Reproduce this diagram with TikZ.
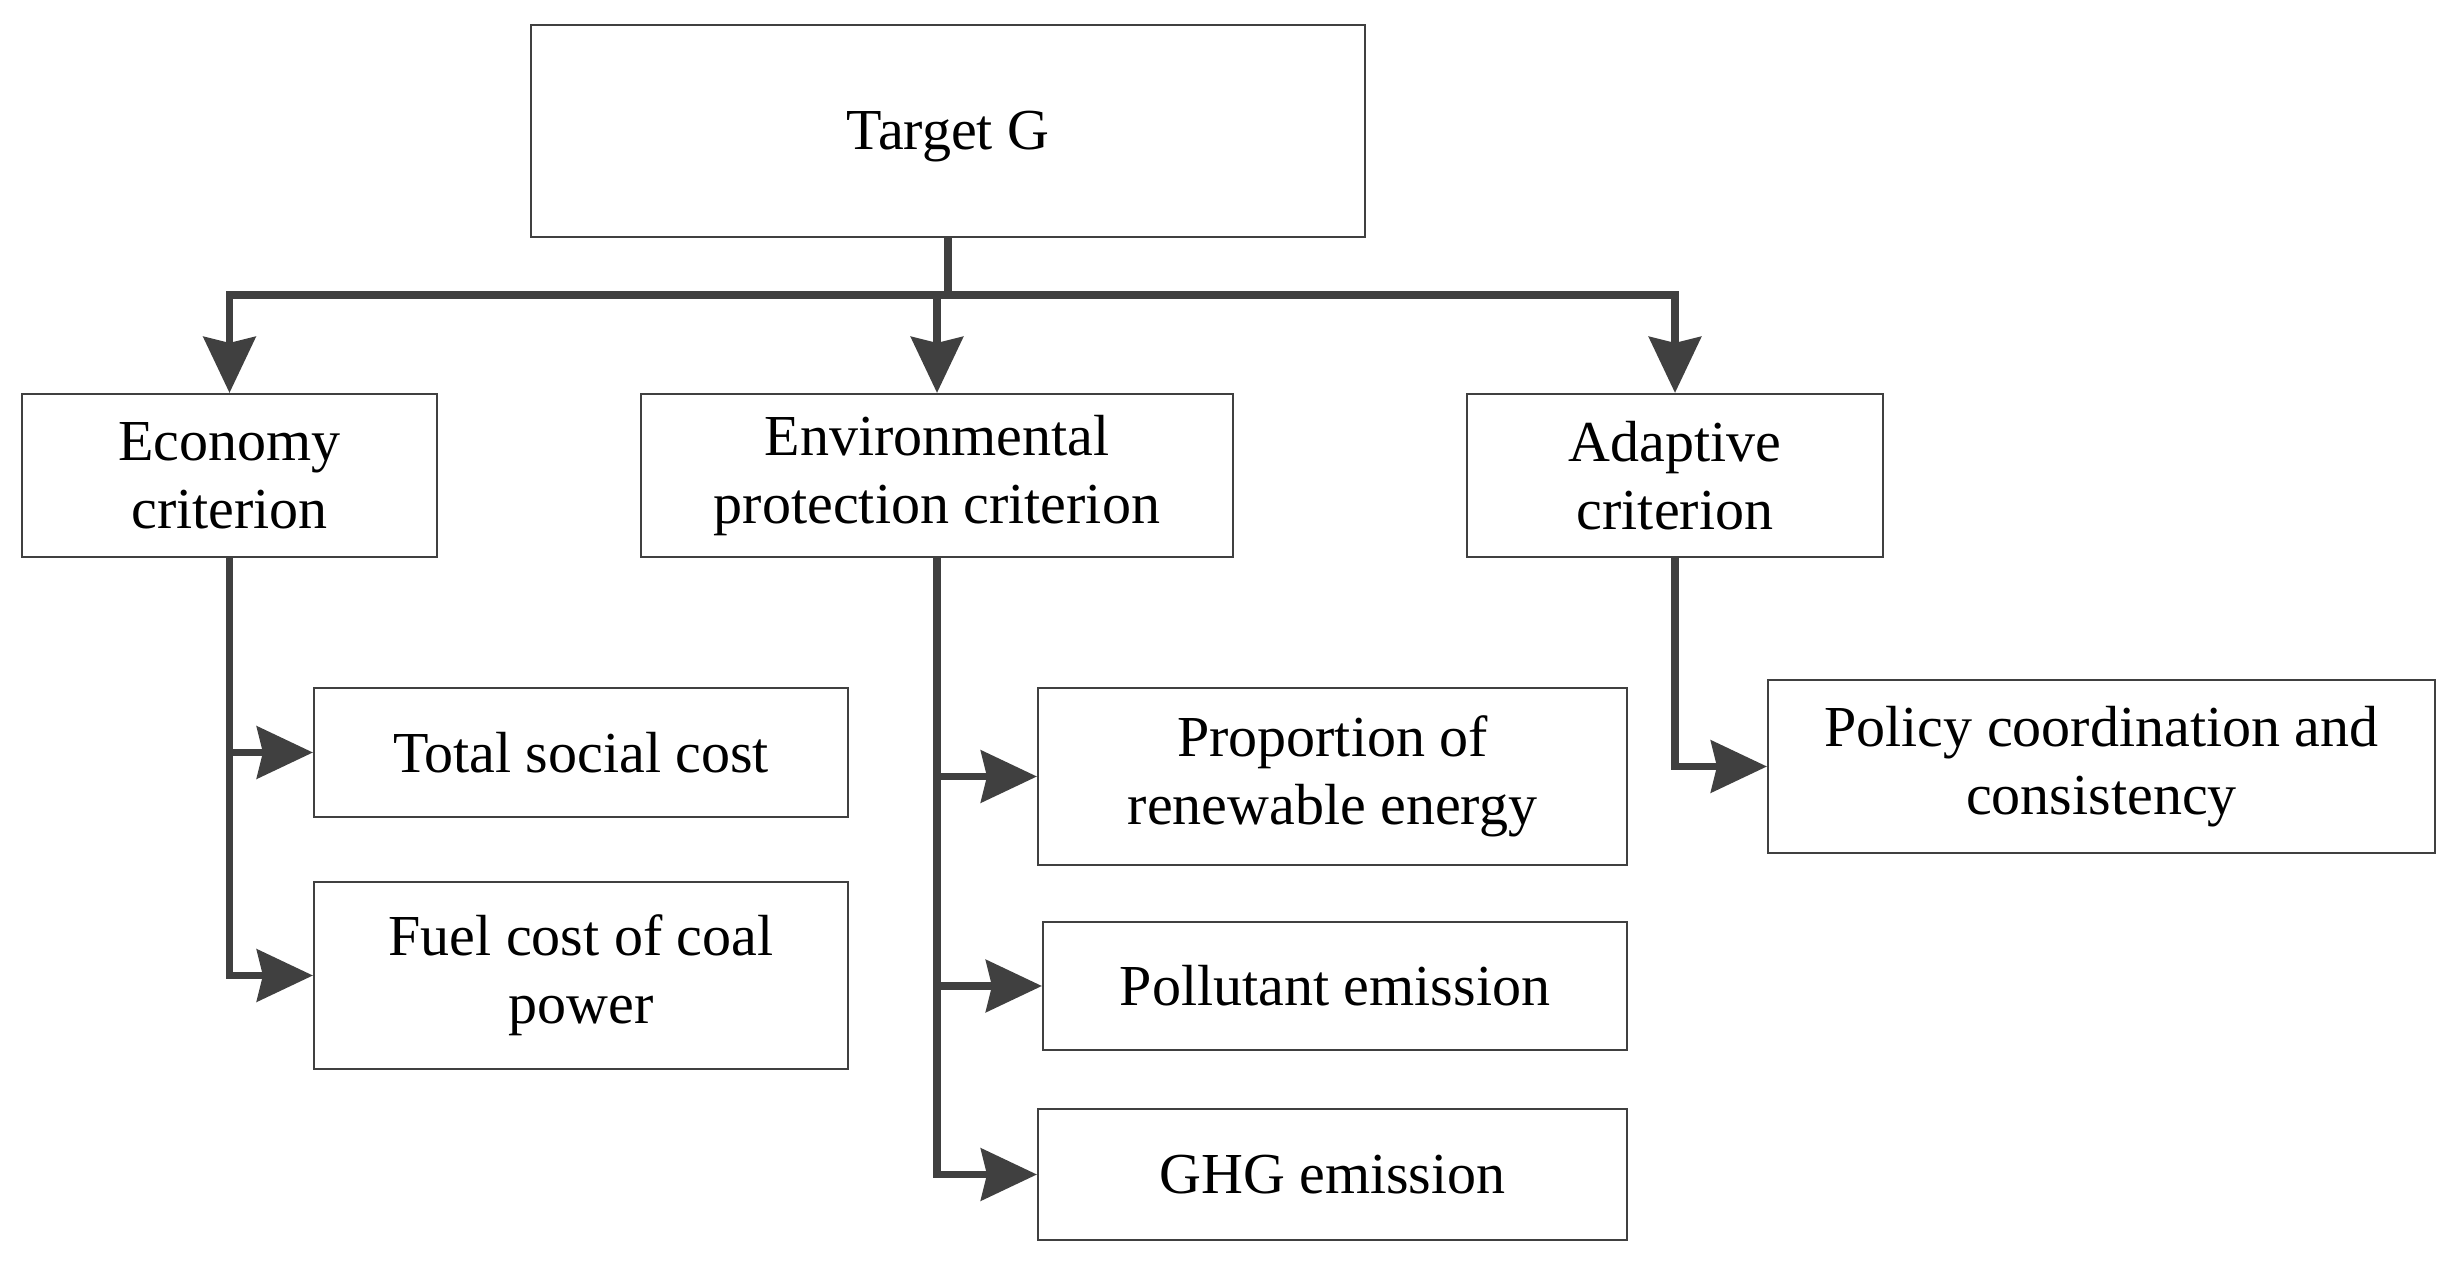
\documentclass[tikz,border=0pt]{standalone}
\usepackage{fontspec}
\setmainfont{Liberation Serif}
\usetikzlibrary{arrows.meta}

\definecolor{linegray}{HTML}{404040}

\tikzset{
  box/.style={draw=linegray, line width=0.6pt, align=center, inner sep=2pt,
    font=\fontsize{16.5}{19.3}\selectfont},
  link/.style={draw=linegray, line width=2.1pt,
    -{Stealth[length=0.56cm, width=0.52cm, inset=0.06cm]}},
  trunk/.style={draw=linegray, line width=2.1pt}
}

\begin{document}
\begin{tikzpicture}

\useasboundingbox (0,0) rectangle (24.62,12.70);

% Target
\node[box, minimum width=8.34cm, minimum height=2.12cm] (goal) at (9.48,11.39) {\raisebox{-0.06cm}[\height][\depth]{Target G}};

% Criteria
\node[box, minimum width=4.15cm, minimum height=1.63cm] (econ) at (2.295,7.945) {Economy\\criterion};
\node[box, minimum width=5.92cm, minimum height=1.63cm] (env) at (9.37,7.945) {Environmental\\protection criterion};
\node[box, minimum width=4.16cm, minimum height=1.63cm] (adapt) at (16.75,7.945) {Adaptive\\criterion};

% Economy indicators
\node[box, minimum width=5.34cm, minimum height=1.29cm] (cost) at (5.81,5.175) {Total social cost};
\node[box, minimum width=5.34cm, minimum height=1.87cm] (fuel) at (5.81,2.945) {Fuel cost of coal\\power};

% Environmental indicators
\node[box, minimum width=5.89cm, minimum height=1.77cm] (share) at (13.325,4.935) {Proportion of\\renewable energy};
\node[box, minimum width=5.84cm, minimum height=1.28cm] (pollut) at (13.35,2.84) {Pollutant emission};
\node[box, minimum width=5.89cm, minimum height=1.31cm] (ghg) at (13.325,0.955) {GHG emission};

% Adaptive indicator
\node[box, minimum width=6.67cm, minimum height=1.73cm] (policy) at (21.015,5.035) {Policy coordination and\\consistency};

% Target to criteria
\coordinate (bar) at (9.48,9.75);
\draw[trunk] (goal.south) -- (bar);
\foreach \crit in {econ,env,adapt}
  \draw[link] (bar) -| (\crit.north);

% Criteria to indicators
\draw[link] (econ.south) |- (cost.west);
\draw[link] (econ.south) |- (fuel.west);
\draw[link] (env.south) |- (share.west);
\draw[link] (env.south) |- (pollut.west);
\draw[link] (env.south) |- (ghg.west);
\draw[link] (adapt.south) |- (policy.west);

\end{tikzpicture}
\end{document}
